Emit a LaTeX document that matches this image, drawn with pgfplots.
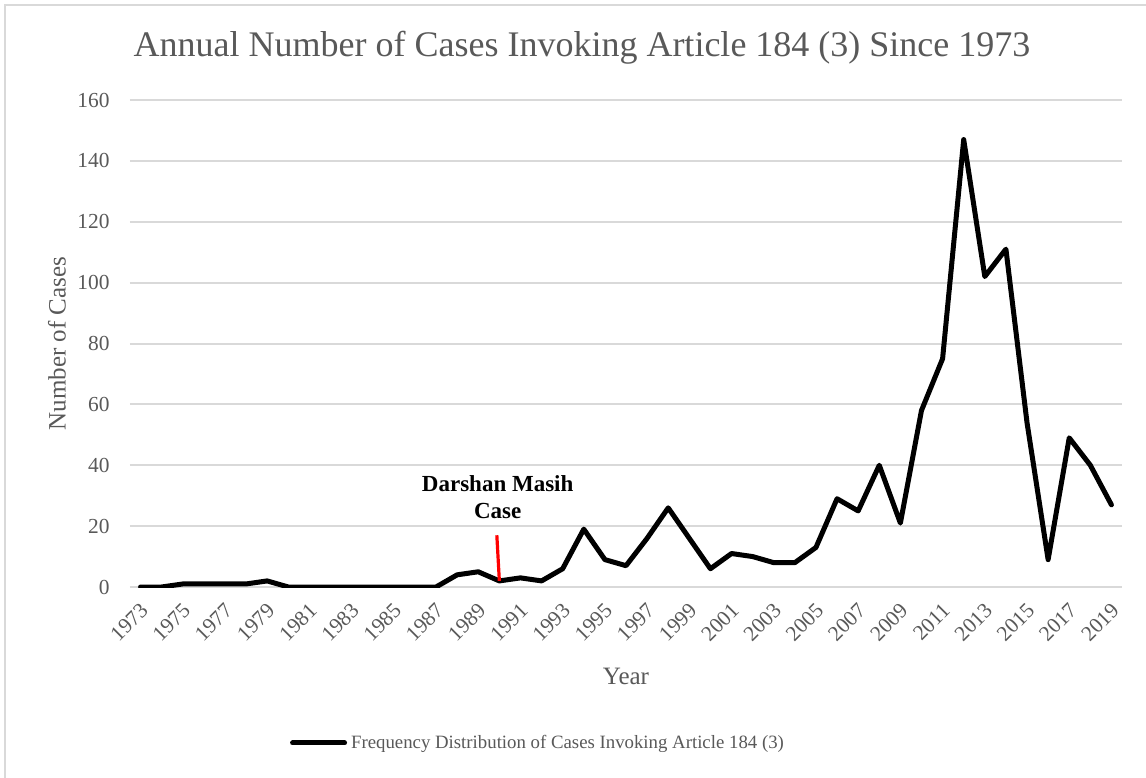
\documentclass[border=0pt]{standalone}
\usepackage{fontspec}
\setmainfont{Liberation Serif}
\usepackage{pgfplots}
\pgfplotsset{compat=1.18}
\definecolor{txtgray}{HTML}{595959}
\definecolor{gridgray}{HTML}{D9D9D9}

\begin{document}
\begin{tikzpicture}
\fill[white] (-65pt,-95pt) rectangle (508pt,293.5pt);
\useasboundingbox (-65pt,-95pt) rectangle (508pt,293.5pt);
\draw[gridgray,line width=1pt] (-62.5pt,-120pt) -- (-62.5pt,291pt) -- (540pt,291pt);
\begin{axis}[
  scale only axis,
  width=496pt, height=243.5pt,
  xmin=1972.5, xmax=2019.5, ymin=0, ymax=160,
  xtick={1973,1975,...,2019},
  ytick={0,20,...,160},
  /pgf/number format/1000 sep={},
  /pgf/number format/assume math mode=true,
  axis line style={draw=none},
  tick style={draw=none},
  ymajorgrids, grid style={gridgray,line width=1pt},
  ticklabel style={font=\fontsize{10.7}{12}\selectfont, text=txtgray},
  yticklabel style={anchor=east, inner sep=0pt, xshift=-10pt},
  xticklabel style={anchor=east, inner sep=0pt, xshift=2pt, yshift=-10pt, rotate=45},
  legend style={at={(0.4123,-0.3203)}, anchor=center, draw=none, fill=none,
    font=\fontsize{9.4}{11}\selectfont, text=txtgray, inner sep=0pt,
    /tikz/every even column/.append style={column sep=0pt}},
  legend cell align=left,
  legend image code/.code={\draw[line width=2.5pt,line cap=round] (0pt,0pt) -- (26pt,0pt);},
]
% yearly counts
\addplot[black, line width=2.5pt, line join=round, line cap=round] coordinates {
(1973,0) (1974,0) (1975,1) (1976,1) (1977,1) (1978,1) (1979,2) (1980,0)
(1981,0) (1982,0) (1983,0) (1984,0) (1985,0) (1986,0) (1987,0) (1988,4)
(1989,5) (1990,2) (1991,3) (1992,2) (1993,6) (1994,19) (1995,9) (1996,7)
(1997,16) (1998,26) (1999,16) (2000,6) (2001,11) (2002,10) (2003,8) (2004,8)
(2005,13) (2006,29) (2007,25) (2008,40) (2009,21) (2010,58) (2011,75) (2012,147)
(2013,102) (2014,111) (2015,54) (2016,9) (2017,49) (2018,40) (2019,27)
};
\addlegendentry{Frequency Distribution of Cases Invoking Article 184 (3)}
% marker for the Darshan Masih case
\addplot[red, line width=1.6pt, forget plot] coordinates {(1989.88,17) (1990,2)};
\node[font=\fontsize{11.5}{13.3}\selectfont\bfseries, align=center, text=black]
  at (axis cs:1989.92,29.6) {Darshan Masih\\Case};
\end{axis}
\node[font=\fontsize{18}{20}\selectfont, text=txtgray] at (226pt,269.5pt)
  {Annual Number of Cases Invoking Article 184 (3) Since 1973};
\node[font=\fontsize{12.5}{14}\selectfont, text=txtgray, rotate=90] at (-36.5pt,121.75pt)
  {Number of Cases};
\node[font=\fontsize{12.5}{14}\selectfont, text=txtgray] at (248pt,-44.5pt) {Year};
\end{tikzpicture}
\end{document}
